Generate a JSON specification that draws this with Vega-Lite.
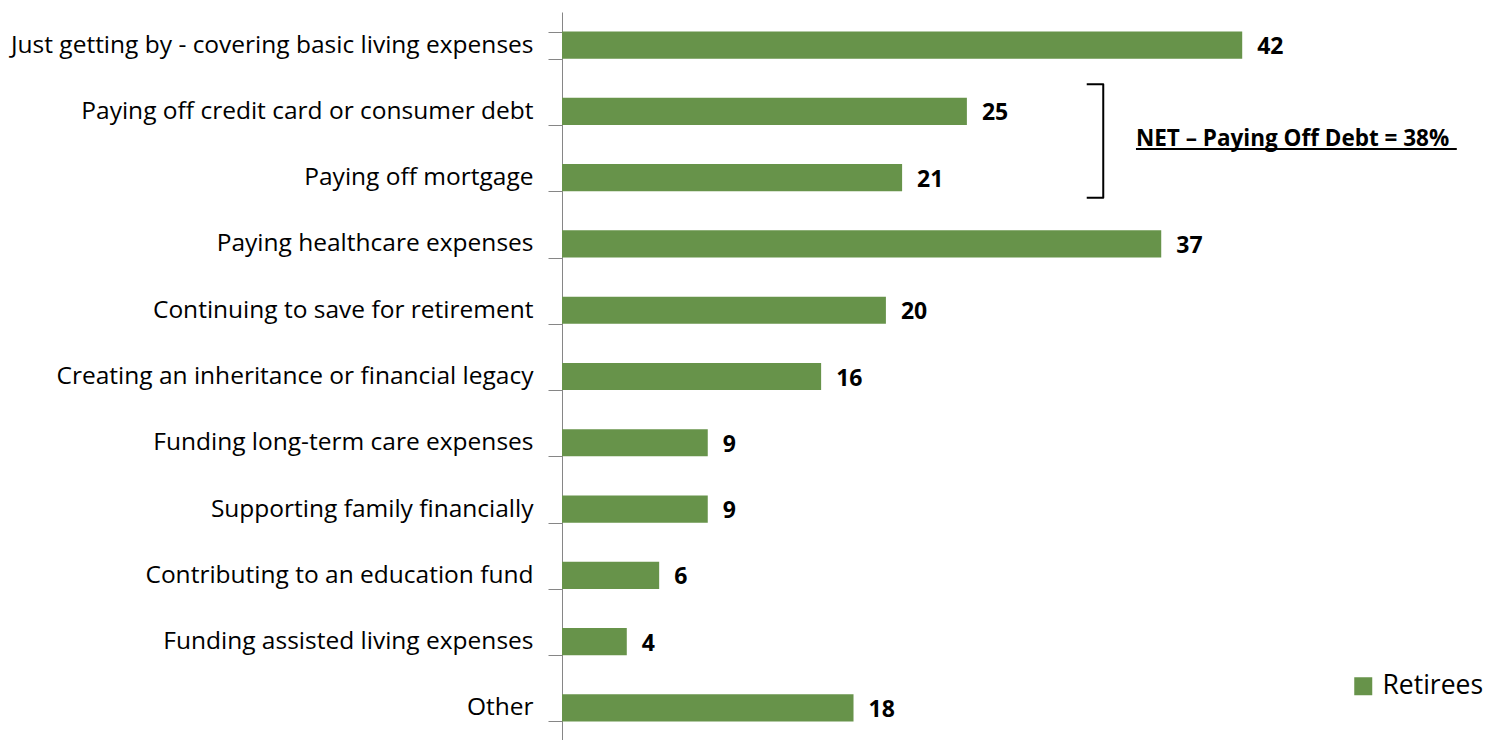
{
  "$schema": "https://vega.github.io/schema/vega-lite/v6.json",
  "width": 928,
  "height": 729,
  "autosize": {"type": "none"},
  "padding": {"left": 562, "top": 12, "right": 0, "bottom": 0},
  "background": "white",
  "config": {"view": {"stroke": null}, "font": "Open Sans"},
  "datasets": {
    "bars": [
      {"category": "Just getting by - covering basic living expenses", "value": 42, "series": "Retirees"},
      {"category": "Paying off credit card or consumer debt", "value": 25, "series": "Retirees"},
      {"category": "Paying off mortgage", "value": 21, "series": "Retirees"},
      {"category": "Paying healthcare expenses", "value": 37, "series": "Retirees"},
      {"category": "Continuing to save for retirement", "value": 20, "series": "Retirees"},
      {"category": "Creating an inheritance or financial legacy", "value": 16, "series": "Retirees"},
      {"category": "Funding long-term care expenses", "value": 9, "series": "Retirees"},
      {"category": "Supporting family financially ", "value": 9, "series": "Retirees"},
      {"category": "Contributing to an education fund", "value": 6, "series": "Retirees"},
      {"category": "Funding assisted living expenses", "value": 4, "series": "Retirees"},
      {"category": "Other", "value": 18, "series": "Retirees"}
    ],
    "bracket": [
      {"x": 32.4, "y": 1.091, "o": 0},
      {"x": 33.42, "y": 1.091, "o": 1},
      {"x": 33.42, "y": 2.802, "o": 2},
      {"x": 32.4, "y": 2.802, "o": 3}
    ],
    "note": [{"x": 35.44, "y": 2.02, "text": "NET – Paying Off Debt = 38%"}],
    "underline": [{"x": 35.44, "x2": 55.25, "y": 2.067}]
  },
  "layer": [
    {
      "data": {"name": "bars"},
      "encoding": {
        "y": {
          "field": "category",
          "type": "nominal",
          "sort": null,
          "scale": {"paddingInner": 0.59, "paddingOuter": 0.295},
          "axis": {
            "title": null,
            "labelFontSize": 24.5,
            "labelFont": "Open Sans",
            "labelColor": "black",
            "labelLimit": 700,
            "tickSize": 14,
            "tickColor": "#868686",
            "domainColor": "#868686",
            "tickBand": "extent",
            "labelPadding": 15
          }
        },
        "x": {
          "field": "value",
          "type": "quantitative",
          "scale": {"domain": [0, 57.3], "nice": false, "zero": true},
          "axis": null
        }
      },
      "layer": [
        {
          "mark": {"type": "bar"},
          "encoding": {
            "color": {
              "field": "series",
              "type": "nominal",
              "scale": {"range": ["#67934a"]},
              "legend": {
                "orient": "none",
                "legendX": 788,
                "legendY": 661,
                "title": null,
                "symbolType": "square",
                "symbolSize": 324,
                "symbolStrokeWidth": 0,
                "labelFontSize": 26.5,
                "labelFont": "Open Sans",
                "labelColor": "black",
                "labelOffset": 6,
                "labelLimit": 200,
                "padding": 0
              }
            }
          }
        },
        {
          "mark": {"type": "text", "align": "left", "baseline": "middle", "dx": 15, "dy": 2, "fontSize": 23, "fontWeight": "bold", "color": "black"},
          "encoding": {"text": {"field": "value", "type": "quantitative"}}
        }
      ]
    },
    {
      "data": {"name": "bracket"},
      "mark": {"type": "line", "color": "black", "strokeWidth": 2, "strokeJoin": "round"},
      "encoding": {
        "x": {"field": "x", "type": "quantitative", "scale": {"domain": [0, 57.3], "nice": false}, "axis": null},
        "y": {"field": "y", "type": "quantitative", "scale": {"domain": [0, 11], "reverse": true, "nice": false}, "axis": null},
        "order": {"field": "o", "type": "quantitative"}
      }
    },
    {
      "data": {"name": "note"},
      "mark": {"type": "text", "align": "left", "baseline": "alphabetic", "fontSize": 22.5, "fontWeight": "bold", "color": "black"},
      "encoding": {
        "x": {"field": "x", "type": "quantitative", "scale": {"domain": [0, 57.3], "nice": false}, "axis": null},
        "y": {"field": "y", "type": "quantitative", "scale": {"domain": [0, 11], "reverse": true, "nice": false}, "axis": null},
        "text": {"field": "text", "type": "nominal"}
      }
    },
    {
      "data": {"name": "underline"},
      "mark": {"type": "rule", "color": "black", "strokeWidth": 2},
      "encoding": {
        "x": {"field": "x", "type": "quantitative", "scale": {"domain": [0, 57.3], "nice": false}, "axis": null},
        "x2": {"field": "x2"},
        "y": {"field": "y", "type": "quantitative", "scale": {"domain": [0, 11], "reverse": true, "nice": false}, "axis": null}
      }
    }
  ],
  "resolve": {"scale": {"y": "independent"}}
}
